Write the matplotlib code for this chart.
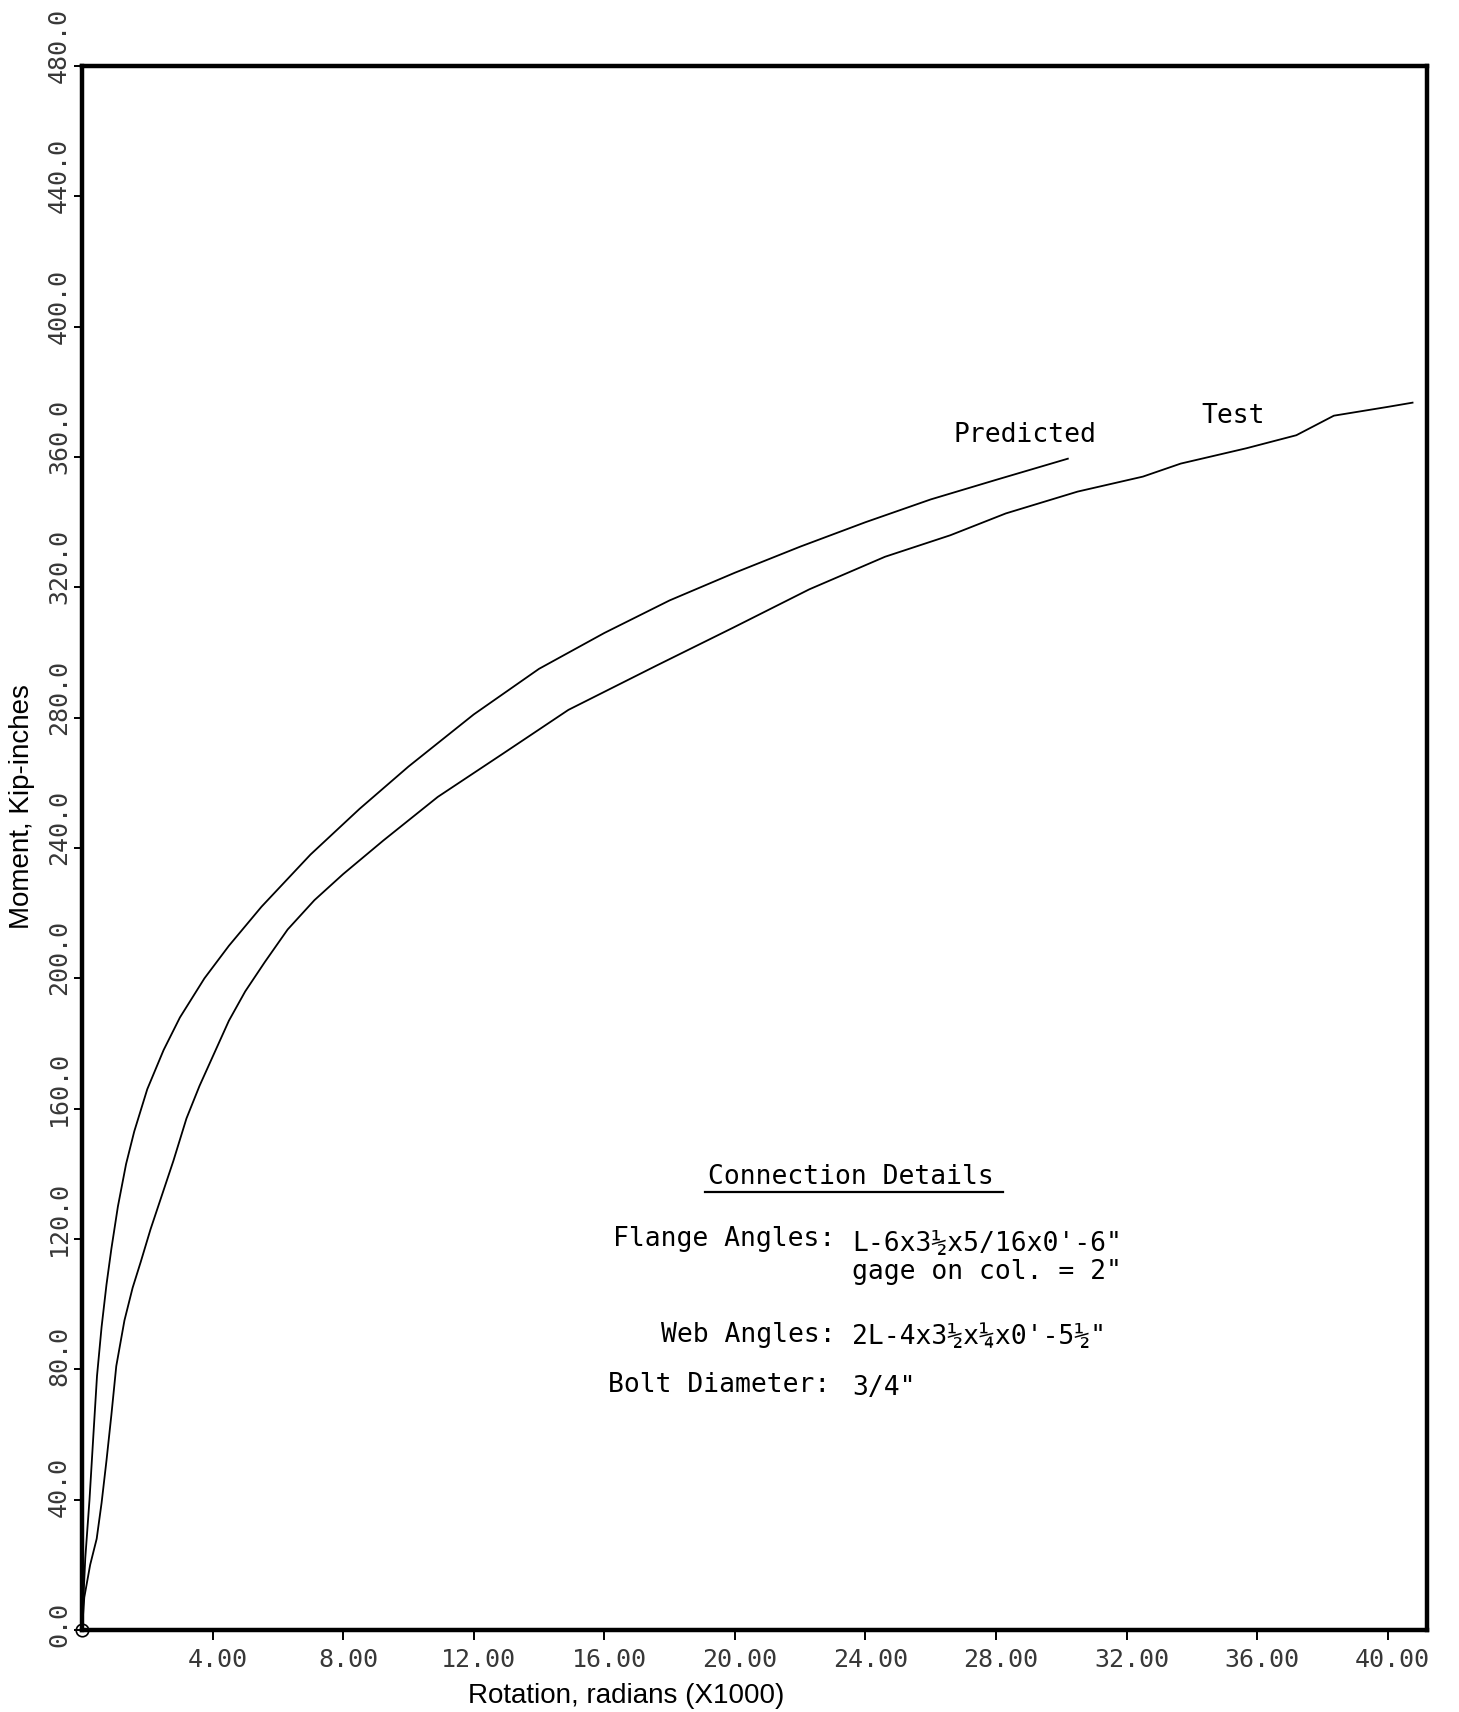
import matplotlib
matplotlib.use("Agg")
import matplotlib.pyplot as plt
from matplotlib.transforms import ScaledTranslation, blended_transform_factory

# Moment-rotation data (rotation in radians x1000, moment in kip-inches)
pred_rot = [0, 0.1, 0.23, 0.35, 0.46, 0.6, 0.75, 0.9, 1.1, 1.35, 1.6, 2.0,
            2.5, 3.0, 3.75, 4.5, 5.5, 7.0, 8.5, 10.0, 12.0, 14.0, 16.0, 18.0,
            20.0, 22.0, 24.0, 26.0, 28.0, 30.2]
pred_mom = [0, 22, 40, 60, 78, 93, 106, 117, 130, 143, 153, 166,
            178, 188, 200, 210, 222, 238, 252, 265, 281, 295, 306, 316,
            324.5, 332.5, 340, 347, 353, 359.5]

test_rot = [0, 0.07, 0.25, 0.45, 0.6, 0.75, 0.9, 1.05, 1.3, 1.55, 1.8, 2.1,
            2.4, 2.8, 3.2, 3.6, 4.05, 4.5, 5.0, 5.6, 6.3, 7.12, 8.0, 9.23,
            10.9, 12.9, 14.9, 17.6, 19.94, 22.28, 24.6, 26.6, 28.3, 30.5,
            32.5, 33.66, 35.67, 37.2, 38.35, 40.0, 40.76]
test_mom = [0, 10, 20, 28, 39, 52, 66, 81, 95, 105, 113, 123,
            132, 144, 157, 167, 177, 187, 196, 205, 215, 224, 232, 242.3,
            255.7, 269, 282.4, 296, 307.6, 319.4, 329.4, 336, 342.7, 349.4,
            354, 358, 362.7, 366.7, 372.7, 375.4, 376.7]

x_ticks = [4, 8, 12, 16, 20, 24, 28, 32, 36, 40]
x_tick_labels = ["4.00", "8.00", "12.00", "16.00", "20.00", "24.00",
                 "28.00", "32.00", "36.00", "40.00"]
y_ticks = [0, 40, 80, 120, 160, 200, 240, 280, 320, 360, 400, 440, 480]
y_tick_labels = ["0.0", "40.0", "80.0", "120.0", "160.0", "200.0", "240.0",
                 "280.0", "320.0", "360.0", "400.0", "440.0", "480.0"]

detail_labels = ["Flange Angles:", "Web Angles:", "Bolt Diameter:"]
detail_values = ["L-6x3\u00bdx5/16x0'-6\"", "gage on col. = 2\"",
                 "2L-4x3\u00bdx\u00bcx0'-5\u00bd\"", "3/4\""]

MONO = "DejaVu Sans Mono"
SANS = "Liberation Sans"
TICK_COLOR = "#383838"

fig = plt.figure(figsize=(14.59, 17.12), dpi=100)
ax = fig.add_axes([0.0562, 0.0479, 0.978 - 0.0562, 0.9614 - 0.0479])
ax.set_xlim(0, 41.2)
ax.set_ylim(0, 480)

ax.plot(pred_rot, pred_mom, color="black", lw=1.3)
ax.plot(test_rot, test_mom, color="black", lw=1.3)

for sp in ax.spines.values():
    sp.set_linewidth(3.2)
    sp.set_color("black")

ax.set_xticks(x_ticks)
ax.set_yticks(y_ticks)
ax.tick_params(axis="x", direction="out", length=7, width=1.4, labelbottom=False)
ax.tick_params(axis="y", direction="out", length=6, width=1.4, labelleft=False)

# tick labels in plotter style
xt = blended_transform_factory(ax.transData, ax.transAxes)
for v, lab in zip(x_ticks, x_tick_labels):
    ax.text(v, 0, lab,
            transform=xt + ScaledTranslation(5 / 100, -30 / 100, fig.dpi_scale_trans),
            ha="center", va="center", family=MONO, fontsize=18, color=TICK_COLOR)

yt = blended_transform_factory(ax.transAxes, ax.transData)
for v, lab in zip(y_ticks, y_tick_labels):
    ax.text(0, v, lab,
            transform=yt + ScaledTranslation(-23 / 100, -17 / 100, fig.dpi_scale_trans),
            ha="center", va="bottom", rotation=90, family=MONO, fontsize=18,
            color=TICK_COLOR, clip_on=False)

# pen mark at the origin
ax.plot([0], [0], marker="o", ms=9, mfc="none", mec="black", mew=1.2, clip_on=False)

# curve labels
ax.text(26.7, 364.7, "Predicted", family=MONO, fontsize=19, ha="left", va="baseline")
ax.text(34.3, 370.6, "Test", family=MONO, fontsize=19, ha="left", va="baseline")

# connection details block
ax.text(19.19, 136.9, "Connection Details", family=MONO, fontsize=19,
        ha="left", va="baseline")
ax.plot([19.1, 28.2], [134.3, 134.3], color="black", lw=1.6)

ax.text(23.08, 117.9, detail_labels[0], family=MONO, fontsize=19, ha="right", va="baseline")
ax.text(23.6, 116.4, detail_values[0], family=MONO, fontsize=19, ha="left", va="baseline")
ax.text(23.6, 107.6, detail_values[1], family=MONO, fontsize=19, ha="left", va="baseline")
ax.text(23.08, 88.4, detail_labels[1], family=MONO, fontsize=19, ha="right", va="baseline")
ax.text(23.6, 87.7, detail_values[2], family=MONO, fontsize=19, ha="left", va="baseline")
ax.text(22.93, 73.1, detail_labels[2], family=MONO, fontsize=19, ha="right", va="baseline")
ax.text(23.6, 72.2, detail_values[3], family=MONO, fontsize=19, ha="left", va="baseline")

# axis titles
fig.text(0.015, 0.529, "Moment, Kip-inches", family=SANS, fontsize=20,
         rotation=90, ha="center", va="center")
fig.text(0.429, 0.0093, "Rotation, radians (X1000)", family=SANS, fontsize=20,
         ha="center", va="center")

fig.savefig("out.png", dpi=100)
